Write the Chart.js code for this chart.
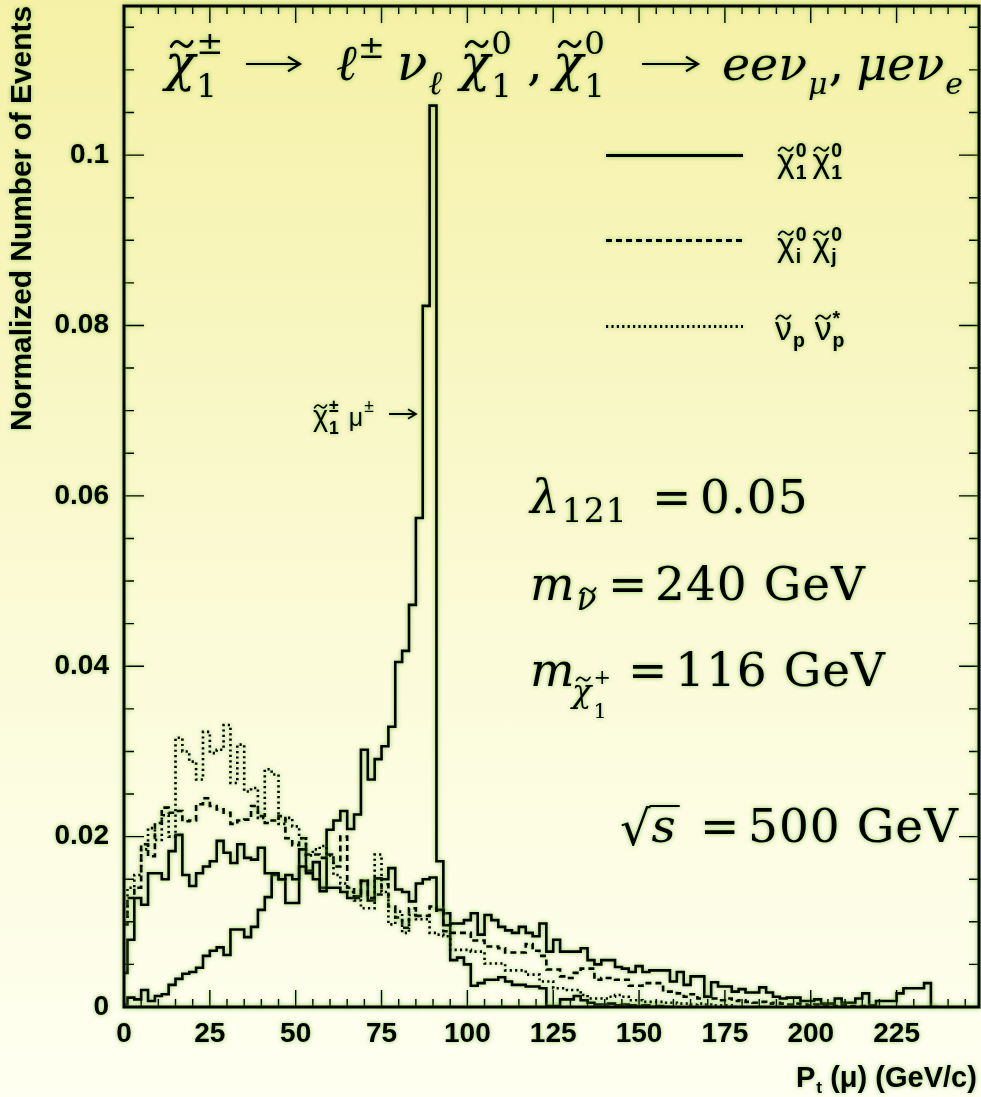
<!DOCTYPE html>
<html>
<head>
<meta charset="utf-8">
<script src="https://cdn.jsdelivr.net/npm/chart.js@4.4.1/dist/chart.umd.min.js"></script>
<style>
html, body { margin: 0; padding: 0; }
body {
  width: 981px; height: 1097px; overflow: hidden;
  background: linear-gradient(to bottom, #f5f1a6 0%, #f8f6c0 30%, #fbfbda 60%, #fefff0 100%);
}
</style>
</head>
<body>
<canvas id="c" width="981" height="1097"></canvas>
<script>
// histogram binning (GeV/c)
var binLow = -1, binWidth = 2;

// chi1 chi1 : broad muon spectrum
var chi1chi1Soft = [
  0.0008, 0.0040, 0.0079, 0.0128, 0.0120, 0.0157, 0.0157, 0.0150, 0.0183, 0.0202,
  0.0155, 0.0142, 0.0157, 0.0165, 0.0171, 0.0195, 0.0181, 0.0169, 0.0191, 0.0175,
  0.0173, 0.0187, 0.0157, 0.0157, 0.0150, 0.0155, 0.0150, 0.0165, 0.0157, 0.0150,
  0.0136, 0.0140, 0.0140, 0.0135, 0.0128, 0.0130, 0.0148, 0.0125, 0.0151, 0.0150,
  0.0163, 0.0138, 0.0135, 0.0124, 0.0145, 0.0150, 0.0152, 0.0114, 0.0096, 0.0098,
  0.0098, 0.0102, 0.0110, 0.0085, 0.0108, 0.0102, 0.0094, 0.0090, 0.0087, 0.0094,
  0.0087, 0.0083, 0.0098, 0.0065, 0.0079, 0.0065, 0.0065, 0.0065, 0.0069, 0.0055,
  0.0050, 0.0055, 0.0055, 0.0047, 0.0045, 0.0041, 0.0048, 0.0041, 0.0043, 0.0043,
  0.0043, 0.0030, 0.0041, 0.0026, 0.0036, 0.0036, 0.0012, 0.0029, 0.0024, 0.0024,
  0.0018, 0.0021, 0.0017, 0.0017, 0.0023, 0.0017, 0.0012, 0.0010, 0.0011, 0.0011,
  0.0007, 0.0007, 0.0009, 0.0004, 0.0004, 0.0010, 0.0005, 0.0005, 0.0010, 0.0016,
  0.0002, 0.0007, 0.0007, 0.0007, 0.0016, 0.0022, 0.0022, 0.0022, 0.0028
];
// chi1 chi1 : muon from chi+- decay (peak)
var chi1chi1Peak = [
  0.0003, 0.0003, 0.0011, 0.0009, 0.0020, 0.0007, 0.0013, 0.0015, 0.0026, 0.0033,
  0.0039, 0.0041, 0.0046, 0.0060, 0.0066, 0.0070, 0.0061, 0.0091, 0.0091, 0.0082,
  0.0094, 0.0114, 0.0129, 0.0155, 0.0150, 0.0122, 0.0122, 0.0185, 0.0160, 0.0170,
  0.0140, 0.0208, 0.0219, 0.0230, 0.0209, 0.0226, 0.0302, 0.0267, 0.0291, 0.0306,
  0.0329, 0.0405, 0.0418, 0.0472, 0.0574, 0.0823, 0.1058, 0.0171, 0.0110, 0.0055,
  0.0058, 0.0050, 0.0025, 0.0028, 0.0032, 0.0032, 0.0035, 0.0030, 0.0026, 0.0026,
  0.0024, 0.0024, 0.0022, 0.0001, 0.0001, 0.0009, 0.0009, 0.0013, 0.0008, 0.0005,
  0.0003, 0.0003, 0.0004, 0.0002, 0.0003, 0.0002, 0.0001, 0.0002, 0.0000, 0.0001
];
// chi_i chi_j
var chiiChij = [
  0.0054, 0.0097, 0.0128, 0.0140, 0.0191, 0.0177, 0.0216, 0.0234, 0.0228, 0.0230,
  0.0218, 0.0219, 0.0238, 0.0245, 0.0236, 0.0232, 0.0228, 0.0215, 0.0219, 0.0220,
  0.0236, 0.0224, 0.0216, 0.0219, 0.0224, 0.0198, 0.0190, 0.0198, 0.0179, 0.0179,
  0.0175, 0.0179, 0.0165, 0.0200, 0.0140, 0.0128, 0.0148, 0.0128, 0.0132, 0.0144,
  0.0118, 0.0105, 0.0093, 0.0116, 0.0107, 0.0107, 0.0118, 0.0113, 0.0089, 0.0087,
  0.0087, 0.0087, 0.0078, 0.0078, 0.0071, 0.0071, 0.0069, 0.0064, 0.0064, 0.0064,
  0.0074, 0.0066, 0.0060, 0.0044, 0.0044, 0.0036, 0.0034, 0.0040, 0.0045, 0.0045,
  0.0032, 0.0034, 0.0034, 0.0032, 0.0032, 0.0025, 0.0025, 0.0028, 0.0028, 0.0028,
  0.0018, 0.0018, 0.0016, 0.0012, 0.0015, 0.0010, 0.0012, 0.0010, 0.0008, 0.0010,
  0.0007, 0.0008, 0.0006, 0.0005, 0.0006, 0.0004, 0.0005, 0.0004, 0.0003, 0.0004,
  0.0003, 0.0002, 0.0003, 0.0002, 0.0002, 0.0001, 0.0002, 0.0001, 0.0001, 0.0001
];
// sneutrino pair
var snuSnu = [
  0.0030, 0.0104, 0.0140, 0.0155, 0.0185, 0.0210, 0.0196, 0.0225, 0.0200, 0.0316,
  0.0300, 0.0288, 0.0267, 0.0323, 0.0298, 0.0302, 0.0331, 0.0263, 0.0308, 0.0253,
  0.0257, 0.0222, 0.0279, 0.0273, 0.0215, 0.0222, 0.0212, 0.0198, 0.0178, 0.0185,
  0.0189, 0.0178, 0.0155, 0.0145, 0.0135, 0.0125, 0.0116, 0.0116, 0.0179, 0.0135,
  0.0097, 0.0112, 0.0087, 0.0108, 0.0103, 0.0103, 0.0087, 0.0085, 0.0083, 0.0067,
  0.0067, 0.0067, 0.0065, 0.0065, 0.0051, 0.0051, 0.0051, 0.0043, 0.0043, 0.0043,
  0.0038, 0.0038, 0.0030, 0.0030, 0.0022, 0.0022, 0.0020, 0.0020, 0.0014, 0.0010,
  0.0010, 0.0010, 0.0012, 0.0014, 0.0012, 0.0008, 0.0008, 0.0006, 0.0006, 0.0006,
  0.0005, 0.0005, 0.0004, 0.0004, 0.0003, 0.0004, 0.0003, 0.0002, 0.0002, 0.0002
];

var xMajor = [0, 25, 50, 75, 100, 125, 150, 175, 200, 225];
var xLabels = ['0', '25', '50', '75', '100', '125', '150', '175', '200', '225'];
var yMajor = [0, 0.02, 0.04, 0.06, 0.08, 0.1];
var yLabels = ['0', '0.02', '0.04', '0.06', '0.08', '0.1'];

function histPoints(vals) {
  var pts = vals.map(function (v, i) { return { x: binLow + i * binWidth, y: v }; });
  pts.push({ x: binLow + vals.length * binWidth, y: 0 });
  return pts;
}

function majorLabel(v, majors, labels) {
  for (var i = 0; i < majors.length; i++) {
    if (Math.abs(v - majors[i]) < 1e-7) return labels[i];
  }
  return '';
}

function tilde(ctx, cx, ty, w, lw) {
  ctx.save();
  ctx.lineWidth = lw;
  ctx.lineCap = 'round';
  ctx.strokeStyle = '#000';
  var a = cx - w / 2;
  ctx.beginPath();
  ctx.moveTo(a, ty + w * 0.12);
  ctx.bezierCurveTo(a + w * 0.22, ty - w * 0.28, a + w * 0.4, ty - w * 0.08, a + w * 0.5, ty);
  ctx.bezierCurveTo(a + w * 0.6, ty + w * 0.08, a + w * 0.78, ty + w * 0.28, a + w, ty - w * 0.12);
  ctx.stroke();
  ctx.restore();
}

// sequential rich text with super/subscripts
function rich(ctx, x, y, items, size, fam) {
  var cx = x;
  items.forEach(function (it) {
    if (it.gap !== undefined) { cx += it.gap; return; }
    var s = size * (it.k || 1);
    var f = it.f || fam;
    ctx.font = (it.i ? 'italic ' : '') + (it.b ? 'bold ' : '') + s + 'px ' + f;
    ctx.fillText(it.t, cx, y);
    var w = ctx.measureText(it.t).width;
    if (it.tl) tilde(ctx, cx + w * (it.tx || 0.55), y - s * (it.ty || 0.66), s * 0.42, Math.max(1.2, s * 0.055));
    var ss = size * (it.sk || 0.65), sw = 0;
    var sf = (it.sb ? 'bold ' : '') + ss + 'px ' + f;
    if (it.sup) {
      ctx.font = (it.supI ? 'italic ' : '') + sf;
      ctx.fillText(it.sup, cx + w + (it.supx || 1), y - size * (it.supy || 0.42));
      sw = ctx.measureText(it.sup).width + (it.supx || 1);
    }
    if (it.sub) {
      ctx.font = (it.subI ? 'italic ' : '') + sf;
      ctx.fillText(it.sub, cx + w + (it.subx || 1), y + size * (it.suby || 0.25));
      sw = Math.max(sw, ctx.measureText(it.sub).width + (it.subx || 1));
      if (it.subTl) tilde(ctx, cx + w + (it.subx || 1) + ctx.measureText(it.sub).width * 0.55, y + size * (it.suby || 0.25) - ss * 0.62, ss * 0.45, Math.max(1.2, ss * 0.06));
    }
    cx += w + sw;
  });
  return cx;
}

function arrow(ctx, x0, x1, y, lw, head) {
  ctx.save();
  ctx.lineWidth = lw;
  ctx.beginPath();
  ctx.moveTo(x0, y); ctx.lineTo(x1 - 1, y);
  ctx.moveTo(x1 - head, y - head * 0.6); ctx.lineTo(x1, y); ctx.lineTo(x1 - head, y + head * 0.6);
  ctx.stroke();
  ctx.restore();
}

var SERIF = '"DejaVu Serif", "Liberation Serif", serif';
var SANS = '"Liberation Sans", Arial, sans-serif';

var decor = {
  id: 'decor',
  beforeDraw: function (chart) {
    var ctx = chart.ctx;
    ctx.save();
    ctx.shadowColor = 'rgba(100, 190, 40, 0.75)';
    ctx.shadowBlur = 4;
  },
  afterDraw: function (chart) {
    var ctx = chart.ctx, a = chart.chartArea;
    var xs = chart.scales.x, ys = chart.scales.y;
    ctx.fillStyle = '#000';
    ctx.strokeStyle = '#000';

    // inward tick marks on all four sides
    ctx.lineWidth = 1.4;
    ctx.beginPath();
    xs.ticks.forEach(function (t) {
      var px = xs.getPixelForValue(t.value);
      if (px < a.left + 1 || px > a.right - 1) return;
      var L = majorLabel(t.value, xMajor, xLabels) !== '' ? 17 : 8;
      ctx.moveTo(px, a.bottom); ctx.lineTo(px, a.bottom - L);
      ctx.moveTo(px, a.top); ctx.lineTo(px, a.top + L);
    });
    ys.ticks.forEach(function (t) {
      var py = ys.getPixelForValue(t.value);
      if (py < a.top + 1 || py > a.bottom - 1) return;
      var L = majorLabel(t.value, yMajor, yLabels) !== '' ? 20 : 10;
      ctx.moveTo(a.left, py); ctx.lineTo(a.left + L, py);
      ctx.moveTo(a.right, py); ctx.lineTo(a.right - L, py);
    });
    ctx.stroke();

    // frame
    ctx.lineWidth = 3;
    ctx.strokeRect(a.left, a.top, a.right - a.left, a.bottom - a.top);

    // legend
    var rows = [
      { y: 155.5, ds: chart.data.datasets[2] },
      { y: 240.5, ds: chart.data.datasets[1] },
      { y: 326.5, ds: chart.data.datasets[0] }
    ];
    rows.forEach(function (r) {
      ctx.save();
      ctx.lineWidth = r.ds.borderWidth + 0.3;
      ctx.setLineDash(r.ds.borderDash || []);
      ctx.beginPath(); ctx.moveTo(606, r.y); ctx.lineTo(743, r.y); ctx.stroke();
      ctx.restore();
    });
    ctx.textAlign = 'left';
    ctx.textBaseline = 'alphabetic';
    var lg = { k: 1.25, sb: true, sk: 0.72, supy: 0.55, suby: 0.25, tl: true, tx: 0.5, ty: 0.68 };
    rich(ctx, 777, 172, [
      Object.assign({ t: 'χ', sup: '0', sub: '1' }, lg), { gap: 6 },
      Object.assign({ t: 'χ', sup: '0', sub: '1' }, lg)
    ], 27, SANS);
    rich(ctx, 777, 256, [
      Object.assign({ t: 'χ', sup: '0', sub: 'i' }, lg), { gap: 6 },
      Object.assign({ t: 'χ', sup: '0', sub: 'j' }, lg)
    ], 27, SANS);
    rich(ctx, 775, 340, [
      Object.assign({ t: 'ν', sub: 'p' }, lg), { gap: 10 },
      Object.assign({ t: 'ν', sub: 'p', sup: '*' }, lg)
    ], 27, SANS);

    // arrow annotation near the peak
    rich(ctx, 313, 426, [
      { t: 'χ', k: 1.15, tl: true, tx: 0.5, ty: 0.68, sup: '±', sub: '1', sb: true, sk: 0.7, supy: 0.55, suby: 0.3 },
      { gap: 10 },
      { t: 'μ', sup: '±', sk: 0.7, supy: 0.55 }
    ], 25, SANS);
    arrow(ctx, 389, 416, 414, 1.8, 8);

    // title
    var T = 50;
    var chiT = { i: true, tl: true, tx: 0.55, ty: 0.72, supy: 0.52, suby: 0.34 };
    rich(ctx, 165, 80, [Object.assign({ t: 'χ', sup: '±', sub: '1' }, chiT)], T, SERIF);
    arrow(ctx, 246, 300, 64, 2.2, 12);
    rich(ctx, 336, 80, [{ t: 'ℓ', i: true, sup: '±', supy: 0.45 }], T, SERIF);
    rich(ctx, 397, 80, [{ t: 'ν', i: true, sub: 'ℓ', subI: true, suby: 0.28 }], T, SERIF);
    rich(ctx, 460, 80, [Object.assign({ t: 'χ', sup: '0', sub: '1' }, chiT)], T, SERIF);
    rich(ctx, 527, 80, [{ t: ',' }], T, SERIF);
    rich(ctx, 553, 80, [Object.assign({ t: 'χ', sup: '0', sub: '1' }, chiT)], T, SERIF);
    arrow(ctx, 642, 698, 64, 2.2, 12);
    var tx = rich(ctx, 722, 80, [{ t: 'eeν', i: true, k: 0.95, sub: 'μ', subI: true, suby: 0.28, sk: 0.6 }], T, SERIF);
    tx = rich(ctx, tx + 1, 80, [{ t: ',' }], T, SERIF);
    rich(ctx, tx + 12, 80, [{ t: 'μeν', i: true, k: 0.95, sub: 'e', subI: true, suby: 0.28, sk: 0.6 }], T, SERIF);

    // parameter annotations
    var P = 47;
    ctx.letterSpacing = '1px';
    rich(ctx, 530, 513, [{ t: 'λ', i: true, sub: '121', sk: 0.7, suby: 0.2 }], P, SERIF);
    rich(ctx, 652, 513, [{ t: '=' }], P, SERIF);
    rich(ctx, 700, 513, [{ t: '0.05' }], P, SERIF);

    rich(ctx, 530, 600, [{ t: 'm', i: true, sub: 'ν', subI: true, subTl: true, sk: 0.7, suby: 0.22 }], P, SERIF);
    rich(ctx, 608, 600, [{ t: '=' }], P, SERIF);
    rich(ctx, 655, 600, [{ t: '240 GeV' }], P, SERIF);

    rich(ctx, 530, 686, [{ t: 'm', i: true }], P, SERIF);
    rich(ctx, 572, 702, [Object.assign({ t: 'χ', sup: '+', sub: '1' }, chiT, { supy: 0.55, suby: 0.5 })], 32, SERIF);
    rich(ctx, 628, 686, [{ t: '=' }], P, SERIF);
    rich(ctx, 675, 686, [{ t: '116 GeV' }], P, SERIF);

    // sqrt(s)
    ctx.font = '48px ' + SERIF;
    ctx.fillText('√', 620, 845);
    var rw = ctx.measureText('√').width;
    ctx.font = 'italic ' + P + 'px ' + SERIF;
    var sw = ctx.measureText('s').width;
    ctx.fillText('s', 620 + rw, 842);
    ctx.lineWidth = 2;
    ctx.beginPath(); ctx.moveTo(620 + rw - 2, 806); ctx.lineTo(620 + rw + sw + 3, 806); ctx.stroke();
    rich(ctx, 700, 842, [{ t: '=' }], P, SERIF);
    rich(ctx, 748, 842, [{ t: '500 GeV' }], P, SERIF);
    ctx.letterSpacing = '0px';

    // axis titles
    ctx.save();
    ctx.font = 'bold 30px ' + SANS;
    var tw = ctx.measureText('Normalized Number of Events').width;
    ctx.translate(31, 431);
    ctx.rotate(-Math.PI / 2);
    ctx.scale(425 / tw, 1);
    ctx.fillText('Normalized Number of Events', 0, 0);
    ctx.restore();

    rich(ctx, 796, 1087, [
      { t: 'P', b: true, sub: 't', sb: true, sk: 0.6, suby: 0.22 },
      { t: ' (μ) (GeV/c)', b: true }
    ], 29, SANS);

    ctx.restore();
  }
};

function ds(vals, dash) {
  return {
    data: histPoints(vals),
    borderColor: '#000',
    borderWidth: 2.6,
    borderDash: dash,
    stepped: 'after',
    pointRadius: 0,
    fill: false,
    tension: 0
  };
}

new Chart(document.getElementById('c').getContext('2d'), {
  type: 'line',
  data: {
    datasets: [
      ds(snuSnu, [2.2, 3.2]),
      ds(chiiChij, [6, 4]),
      ds(chi1chi1Soft, []),
      ds(chi1chi1Peak, [])
    ]
  },
  options: {
    responsive: false,
    animation: false,
    devicePixelRatio: 1,
    layout: { padding: { top: 6, right: 2, left: 0, bottom: 0 } },
    plugins: { legend: { display: false }, tooltip: { enabled: false } },
    scales: {
      x: {
        type: 'linear', min: 0, max: 249,
        border: { display: false },
        grid: { display: false, drawTicks: false },
        ticks: {
          stepSize: 5, autoSkip: false, maxRotation: 0, includeBounds: false,
          padding: 10, color: '#000',
          font: { family: SANS, weight: 'bold', size: 28 },
          callback: function (v) { return majorLabel(v, xMajor, xLabels); }
        },
        afterFit: function (s) { s.height = 90; s.paddingLeft = 0; s.paddingRight = 0; }
      },
      y: {
        min: 0, max: 0.1175,
        border: { display: false },
        grid: { display: false, drawTicks: false },
        ticks: {
          stepSize: 0.005, autoSkip: false, includeBounds: false,
          padding: 15, color: '#000',
          font: { family: SANS, weight: 'bold', size: 28 },
          callback: function (v) { return majorLabel(v, yMajor, yLabels); }
        },
        afterFit: function (s) { s.width = 124; s.paddingTop = 0; s.paddingBottom = 0; }
      }
    }
  },
  plugins: [decor]
});
</script>
</body>
</html>
